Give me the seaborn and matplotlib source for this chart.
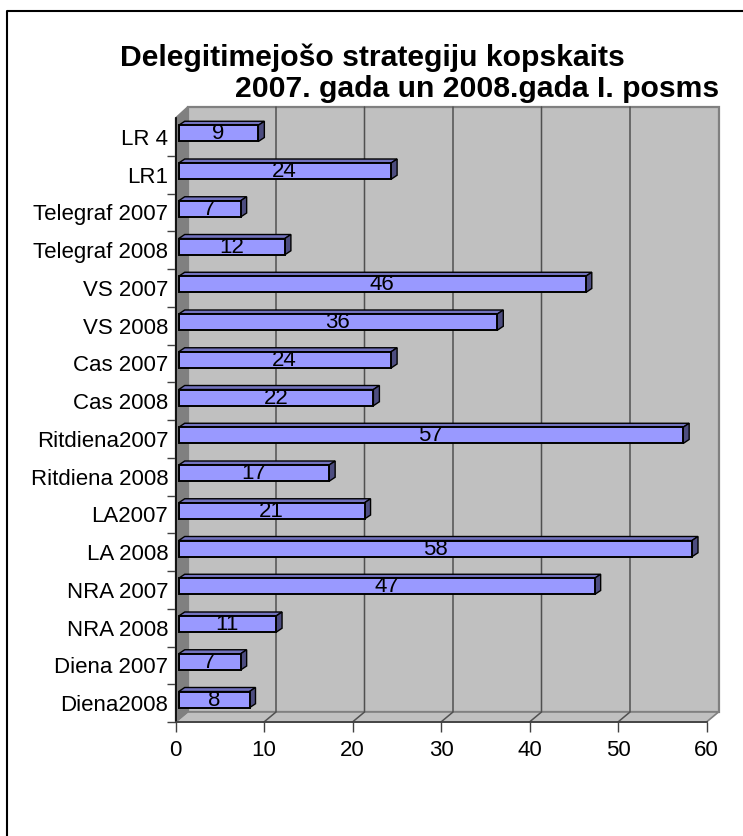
import matplotlib
matplotlib.use("Agg")
import matplotlib.pyplot as plt
import matplotlib.transforms as mtrans
from matplotlib.lines import Line2D
from matplotlib.patches import Polygon
import seaborn as sns

# ── Data ───────────────────────────────────────────────
categories = ["LR 4", "LR1", "Telegraf 2007", "Telegraf 2008", "VS 2007", "VS 2008",
              "Cas 2007", "Cas 2008", "Ritdiena2007", "Ritdiena 2008", "LA2007",
              "LA 2008", "NRA 2007", "NRA 2008", "Diena 2007", "Diena2008"]
values = [9, 24, 7, 12, 46, 36, 24, 22, 57, 17, 21, 58, 47, 11, 7, 8]
x_ticks = [0, 10, 20, 30, 40, 50, 60]
title_1 = "Delegitimejošo strategiju kopskaits"
title_2 = "2007. gada un 2008.gada I. posms"

# ── Setup ──────────────────────────────────────────────
W, H = 743, 836
LEFT, RIGHT, TOP, BOTTOM = 175.5, 706.5, 118, 722
BAR, BAR_TOP, BAR_SIDE = "#9999FF", "#7373BF", "#4D4D80"
WALL, SIDE_WALL, EDGE = "#C0C0C0", "#808080", "#808080"

sns.set_theme(style="white")
plt.rcParams["font.family"] = ["Liberation Sans", "DejaVu Sans"]

fig = plt.figure(figsize=(W / 100, H / 100), dpi=100, facecolor="white")
ax = fig.add_axes([LEFT / W, 1 - BOTTOM / H, (RIGHT - LEFT) / W, (BOTTOM - TOP) / H])

sns.barplot(x=values, y=categories, orient="h", color=BAR, saturation=1, width=0.43,
            edgecolor="black", linewidth=1.4, ax=ax, zorder=5)
ax.set_xlim(0, 60)
ax.set_ylim(len(categories) - 0.5, -0.5)
ax.set_xlabel("")
ax.set_ylabel("")
ax.patch.set_visible(False)

px_x = (RIGHT - LEFT) / 60
px_y = (BOTTOM - TOP) / len(categories)

# ── 3D walls ───────────────────────────────────────────
wall_dx = 12 / px_x
y_front_top, y_front_bot = -0.5, len(categories) - 0.5
y_back_top = y_front_top - 11 / px_y
y_back_bot = y_front_bot - 10 / px_y

ax.add_patch(Polygon([(wall_dx, y_back_top), (60 + wall_dx, y_back_top),
                      (60 + wall_dx, y_back_bot), (wall_dx, y_back_bot)],
                     facecolor=WALL, edgecolor=EDGE, linewidth=1.6, clip_on=False, zorder=1))
ax.add_patch(Polygon([(0, y_front_bot), (wall_dx, y_back_bot),
                      (60 + wall_dx, y_back_bot), (60, y_front_bot)],
                     facecolor=WALL, edgecolor=EDGE, linewidth=1.2, clip_on=False, zorder=1))
ax.add_patch(Polygon([(0, y_front_top), (wall_dx, y_back_top),
                      (wall_dx, y_back_bot), (0, y_front_bot)],
                     facecolor=SIDE_WALL, edgecolor=EDGE, linewidth=1.0, clip_on=False, zorder=1))

for t in x_ticks[1:-1]:
    ax.plot([t, t + wall_dx, t + wall_dx], [y_front_bot, y_back_bot, y_back_top],
            color="#505050", linewidth=1.1, clip_on=False, zorder=2)

# ── 3D bars ────────────────────────────────────────────
shift = mtrans.ScaledTranslation(3.2 / 100, 3.5 / 100, fig.dpi_scale_trans)
depth_x, depth_y = 6 / px_x, 4 / px_y

for patch, val in zip(ax.containers[0], values):
    y0, h = patch.get_y(), patch.get_height()
    patch.set_transform(ax.transData + shift)
    patch.set_clip_on(False)
    top = Polygon([(0, y0), (depth_x, y0 - depth_y), (val + depth_x, y0 - depth_y), (val, y0)],
                  facecolor=BAR_TOP, edgecolor="black", linewidth=1.0,
                  transform=ax.transData + shift, clip_on=False, zorder=4)
    side = Polygon([(val, y0), (val + depth_x, y0 - depth_y),
                    (val + depth_x, y0 + h - depth_y), (val, y0 + h)],
                   facecolor=BAR_SIDE, edgecolor="black", linewidth=1.0,
                   transform=ax.transData + shift, clip_on=False, zorder=4)
    ax.add_patch(top)
    ax.add_patch(side)
    ax.annotate(str(val), xy=(val / 2, y0 + h / 2), xytext=(3, 3), textcoords="offset pixels",
                ha="center", va="center", fontsize=16, color="black", zorder=7)

# ── Axes, ticks ────────────────────────────────────────
ax.set_xticks(x_ticks)
ax.set_yticks(range(len(categories)))
ax.set_yticklabels(categories)
ax.set_yticks([i + 0.5 for i in range(len(categories))], minor=True)
ax.tick_params(axis="x", which="major", length=7.2, width=1, color="#404040", pad=6,
               labelsize=16, labelcolor="black", bottom=True)
ax.tick_params(axis="y", which="major", length=0, pad=5.2, labelsize=16, labelcolor="black", left=False)
ax.tick_params(axis="y", which="minor", length=6.5, width=1, color="#404040", left=True)

for name in ["top", "right"]:
    ax.spines[name].set_visible(False)
ax.spines["left"].set_color("black")
ax.spines["left"].set_linewidth(1.2)
ax.spines["left"].set_zorder(6)
ax.spines["bottom"].set_color("#404040")
ax.spines["bottom"].set_linewidth(1.3)
ax.spines["bottom"].set_zorder(6)

# ── Title and frame ────────────────────────────────────
fig.text(120 / W, 1 - 66 / H, title_1, fontsize=21.7, fontweight="bold", color="black", ha="left", va="baseline")
fig.text(719 / W, 1 - 97 / H, title_2, fontsize=21.7, fontweight="bold", color="black", ha="right", va="baseline")

fig.add_artist(Line2D([7 / W, 7 / W, 1], [0, 1 - 11 / H, 1 - 11 / H], color="black", linewidth=1.5,
                      transform=fig.transFigure))

fig.savefig("out.png", dpi=100, facecolor="white")
plt.close(fig)
